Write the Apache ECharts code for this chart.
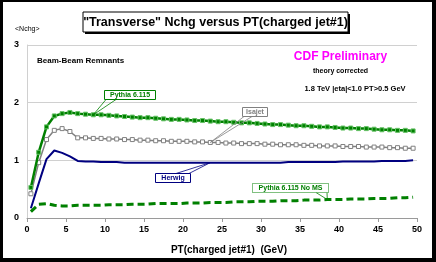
<!DOCTYPE html>
<html><head><meta charset="utf-8">
<script src="https://cdn.jsdelivr.net/npm/echarts@6/dist/echarts.min.js"></script>
<style>html,body{margin:0;padding:0;background:#fff}#c{width:436px;height:262px}</style>
</head><body><div id="c"></div>
<script>
const xValues = [0.5,1.5,2.5,3.5,4.5,5.5,6.5,7.5,8.5,9.5,10.5,11.5,12.5,13.5,14.5,15.5,16.5,17.5,18.5,19.5,20.5,21.5,22.5,23.5,24.5,25.5,26.5,27.5,28.5,29.5,30.5,31.5,32.5,33.5,34.5,35.5,36.5,37.5,38.5,39.5,40.5,41.5,42.5,43.5,44.5,45.5,46.5,47.5,48.5,49.5];
const pythia = [0.53,1.14,1.58,1.77,1.81,1.83,1.81,1.80,1.79,1.79,1.78,1.77,1.76,1.75,1.74,1.74,1.73,1.72,1.71,1.71,1.70,1.69,1.69,1.68,1.67,1.67,1.66,1.65,1.65,1.64,1.63,1.62,1.62,1.61,1.60,1.60,1.59,1.58,1.58,1.57,1.56,1.56,1.55,1.55,1.54,1.53,1.53,1.52,1.52,1.51];
const isajet = [0.42,0.96,1.36,1.52,1.55,1.50,1.39,1.39,1.38,1.38,1.37,1.37,1.36,1.36,1.35,1.35,1.34,1.34,1.33,1.33,1.33,1.32,1.32,1.31,1.31,1.30,1.30,1.29,1.29,1.29,1.28,1.28,1.27,1.27,1.27,1.26,1.26,1.25,1.25,1.25,1.24,1.24,1.24,1.23,1.23,1.23,1.22,1.22,1.21,1.21];
const herwig = [0.17,0.60,1.02,1.17,1.13,1.07,0.99,0.98,0.98,0.97,0.97,0.97,0.96,0.96,0.96,0.96,0.96,0.96,0.96,0.96,0.96,0.96,0.96,0.96,0.96,0.96,0.96,0.96,0.96,0.96,0.96,0.96,0.96,0.97,0.97,0.97,0.97,0.97,0.97,0.97,0.98,0.98,0.98,0.98,0.98,0.99,0.99,0.99,0.99,1.00];
const pythiaNoMS = [0.11,0.24,0.25,0.22,0.21,0.21,0.22,0.22,0.22,0.22,0.23,0.23,0.23,0.24,0.24,0.24,0.25,0.25,0.25,0.25,0.26,0.26,0.26,0.27,0.27,0.27,0.28,0.28,0.28,0.29,0.29,0.29,0.30,0.30,0.30,0.31,0.31,0.31,0.32,0.32,0.32,0.33,0.33,0.33,0.34,0.34,0.34,0.35,0.35,0.36];
const seriesNames = ['Pythia 6.115','Isajet','Herwig','Pythia 6.115 No MS'];
const titleText = '"Transverse" Nchg versus PT(charged jet#1)';
const xAxisName = 'PT(charged jet#1)  (GeV)';
const yAxisName = '<Nchg>';

const F = '"Liberation Sans", Arial, sans-serif';
const pairs = arr => xValues.map((x,i)=>[x,arr[i]]);
const chart = echarts.init(document.getElementById('c'), null, {renderer:'canvas'});
chart.setOption({
  animation:false,
  backgroundColor:'#fff',
  grid:{left:27,right:19,top:45,bottom:44,containLabel:false},
  xAxis:{type:'value',min:0,max:50,interval:5,
    axisLine:{show:true,lineStyle:{color:'#9a9a9a',width:1}},
    axisTick:{show:true,length:4,lineStyle:{color:'#9a9a9a'}},
    axisLabel:{color:'#000',fontWeight:'bold',fontSize:9,fontFamily:F,margin:7},
    splitLine:{show:false},
    name:xAxisName,nameLocation:'middle',nameGap:27,
    nameTextStyle:{color:'#000',fontWeight:'bold',fontSize:10,fontFamily:F,padding:[0,0,0,14]}},
  yAxis:{type:'value',min:0,max:3,interval:1,
    axisLine:{show:true,lineStyle:{color:'#d0d0d0',width:1}},
    axisTick:{show:false},
    axisLabel:{color:'#000',fontWeight:'bold',fontSize:9,fontFamily:F,margin:8},
    splitLine:{show:true,lineStyle:{color:'#d0d0d0',width:1}}},
  series:[
    {name:seriesNames[0],type:'line',data:pairs(pythia),symbol:'rect',symbolSize:4,
     lineStyle:{color:'#008000',width:2.5},itemStyle:{color:'#008000',borderColor:'#66c266',borderWidth:1},z:5},
    {name:seriesNames[1],type:'line',data:pairs(isajet),symbol:'rect',symbolSize:4,
     lineStyle:{color:'#808080',width:1.5},itemStyle:{color:'#fff',borderColor:'#808080',borderWidth:1},z:4},
    {name:seriesNames[2],type:'line',data:pairs(herwig),symbol:'none',
     lineStyle:{color:'#000080',width:2},z:3},
    {name:seriesNames[3],type:'line',data:pairs(pythiaNoMS),symbol:'none',
     lineStyle:{color:'#008000',width:3,type:[7,4]},z:3}
  ]
});

function px(x,y){return chart.convertToPixel({gridIndex:0},[x,y]);}
const g = [];
g.push({type:'rect',shape:{x:0,y:0,width:436,height:2},style:{fill:'#000'},z:100});
g.push({type:'rect',shape:{x:0,y:0,width:3,height:262},style:{fill:'#000'},z:100});
g.push({type:'rect',shape:{x:432,y:0,width:4,height:262},style:{fill:'#000'},z:100});
g.push({type:'rect',shape:{x:0,y:258,width:436,height:4},style:{fill:'#000'},z:100});
g.push({type:'rect',shape:{x:85,y:14,width:265,height:20},style:{fill:'#000'},z:50});
g.push({type:'rect',shape:{x:83,y:12,width:265,height:20},style:{fill:'#fff',stroke:'#000',lineWidth:1},z:51});
g.push({type:'text',x:215.5,y:22.5,style:{text:titleText,fill:'#000',font:'bold 12.5px '+F,textAlign:'center',textVerticalAlign:'middle'},z:52});
g.push({type:'text',x:15,y:29.5,style:{text:yAxisName,fill:'#000',font:'7px '+F,textAlign:'left',textVerticalAlign:'middle'},z:52});
g.push({type:'text',x:37,y:60.5,style:{text:'Beam-Beam Remnants',fill:'#000',font:'bold 8px '+F,textAlign:'left',textVerticalAlign:'middle'},z:52});
g.push({type:'text',x:340.5,y:57,style:{text:'CDF Preliminary',fill:'#ff00ff',font:'bold 12px '+F,textAlign:'center',textVerticalAlign:'middle'},z:52});
g.push({type:'text',x:340.5,y:71,style:{text:'theory corrected',fill:'#000',font:'bold 7px '+F,textAlign:'center',textVerticalAlign:'middle'},z:52});
g.push({type:'text',x:355,y:89,style:{text:'1.8 TeV |eta|<1.0 PT>0.5 GeV',fill:'#000',font:'bold 7.5px '+F,textAlign:'center',textVerticalAlign:'middle'},z:52});

function label(text,bx,by,bw,bh,color,dashed,anchors,target){
  const p = px(target[0],target[1]);
  anchors.forEach(a=>{
    g.push({type:'line',shape:{x1:a[0],y1:a[1],x2:p[0],y2:p[1]},style:{stroke:color,lineWidth:0.8},z:40});
  });
  g.push({type:'rect',shape:{x:bx,y:by,width:bw,height:bh},style:{fill:'#fff',stroke:color,lineWidth:1,lineDash:dashed?[1,1]:null},z:41});
  g.push({type:'text',x:bx+bw/2,y:by+bh/2+0.5,style:{text:text,fill:color,font:'bold 7px '+F,textAlign:'center',textVerticalAlign:'middle'},z:42});
}
label(seriesNames[0],104.5,90.5,51,9,'#008000',false,[[106,99.5],[116,99.5]],[xValues[8],pythia[8]]);
label(seriesNames[1],242.5,107.5,25,9,'#808080',false,[[244,116.5],[252,116.5]],[xValues[23],isajet[23]]);
label(seriesNames[2],155.5,173.5,35,9,'#000080',false,[[176,173.5],[189,173.5]],[xValues[23],herwig[23]]);
label(seriesNames[3],252.5,183.5,76,9,'#008000',true,[[316,192.5],[327,192.5]],[xValues[38],pythiaNoMS[38]]);

chart.setOption({graphic:g});
</script></body></html>
